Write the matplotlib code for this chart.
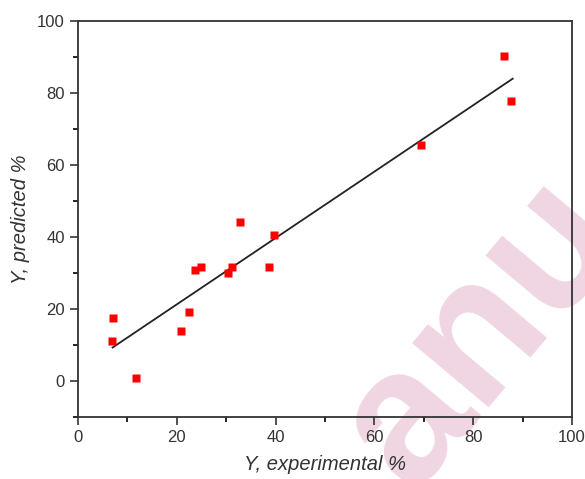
import numpy as np
import matplotlib
matplotlib.use("Agg")
import matplotlib.pyplot as plt
from matplotlib.ticker import MultipleLocator

plt.rcParams['font.family'] = ['Liberation Sans', 'DejaVu Sans']

# experimental vs predicted yield (%)
y_exp = [6.9, 7.1, 11.7, 20.9, 22.5, 23.7, 24.9, 30.4, 31.2, 32.8, 38.7, 39.7, 69.4, 86.2, 87.7]
y_pred = [11.1, 17.5, 0.8, 13.9, 19.2, 30.8, 31.7, 30.0, 31.7, 44.2, 31.7, 40.6, 65.6, 90.3, 77.8]

# fitted line end points
fit_x = [7.0, 88.0]
fit_y = [9.3, 84.0]

fig = plt.figure(figsize=(5.85, 4.79), dpi=100)
ax = fig.add_axes([0.1333, 0.1294, 0.8445, 0.8266])
ax.patch.set_visible(False)

# faint watermark behind the plot
fig.text(0.825, 0.305, "anu", fontsize=136, fontweight='bold', color='#f0d6e3',
         rotation=50, ha='center', va='center', zorder=-1)

ax.plot(fit_x, fit_y, color='#222222', lw=1.3, zorder=2)
ax.plot(y_exp, y_pred, 's', color='#ff0000', markersize=6, mec='none', zorder=3)

ax.set_xlim(0, 100)
ax.set_ylim(-10, 100)
ax.xaxis.set_major_locator(MultipleLocator(20))
ax.xaxis.set_minor_locator(MultipleLocator(10))
ax.yaxis.set_major_locator(MultipleLocator(20))
ax.yaxis.set_minor_locator(MultipleLocator(10))
ax.tick_params(which='major', direction='out', length=6, width=1.2, labelsize=12, colors='#333333')
ax.tick_params(which='minor', direction='out', length=3.5, width=1.2)
for s in ax.spines.values():
    s.set_linewidth(1.3)
    s.set_color('#333333')

ax.set_xlabel("Y, experimental %", fontsize=14.5, style='italic', color='#333333', labelpad=7)
ax.set_ylabel("Y, predicted %", fontsize=14.5, style='italic', color='#333333', labelpad=5)

fig.savefig("out.png", dpi=100)
